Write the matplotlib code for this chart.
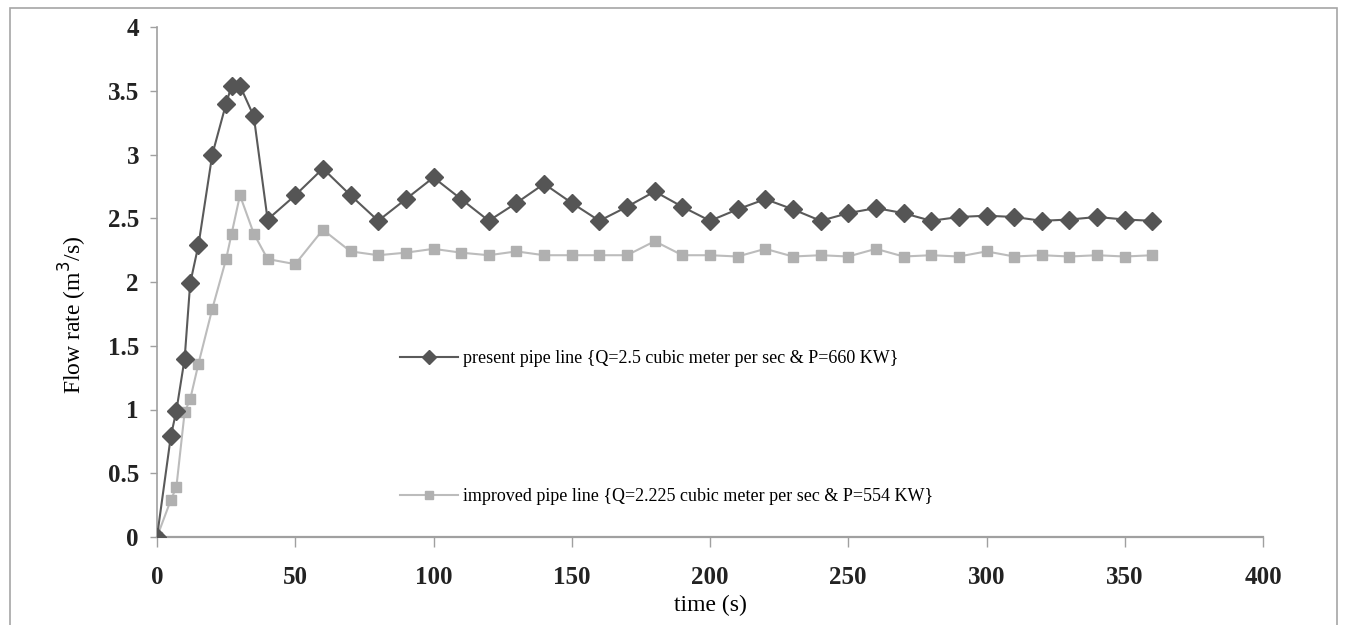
import matplotlib
matplotlib.use("Agg")
import matplotlib.pyplot as plt
from matplotlib.patches import Rectangle

time_s = [0, 5, 7, 10, 12, 15, 20, 25, 27, 30, 35, 40,
          50, 60, 70, 80, 90, 100, 110, 120, 130, 140, 150, 160, 170, 180,
          190, 200, 210, 220, 230, 240, 250, 260, 270, 280, 290, 300, 310,
          320, 330, 340, 350, 360]

present = [0, 0.79, 0.99, 1.40, 1.99, 2.29, 3.0, 3.4, 3.54, 3.54, 3.3, 2.49,
           2.68, 2.89, 2.68, 2.48, 2.65, 2.82, 2.65, 2.48, 2.62, 2.77, 2.62, 2.48, 2.59, 2.71,
           2.59, 2.48, 2.57, 2.65, 2.57, 2.48, 2.54, 2.58, 2.54, 2.48, 2.51, 2.52, 2.51,
           2.48, 2.49, 2.51, 2.49, 2.48]

improved = [0, 0.29, 0.39, 0.98, 1.08, 1.36, 1.79, 2.18, 2.38, 2.68, 2.38, 2.18,
            2.14, 2.41, 2.24, 2.21, 2.23, 2.26, 2.23, 2.21, 2.24, 2.21, 2.21, 2.21, 2.21, 2.32,
            2.21, 2.21, 2.20, 2.26, 2.20, 2.21, 2.20, 2.26, 2.20, 2.21, 2.20, 2.24, 2.20,
            2.21, 2.20, 2.21, 2.20, 2.21]

label_present = "present pipe line {Q=2.5 cubic meter per sec & P=660 KW}"
label_improved = "improved pipe line {Q=2.225 cubic meter per sec & P=554 KW}"

x_ticks = [0, 50, 100, 150, 200, 250, 300, 350, 400]
y_ticks = [0, 0.5, 1, 1.5, 2, 2.5, 3, 3.5, 4]
y_ticklabels = ["0", "0.5", "1", "1.5", "2", "2.5", "3", "3.5", "4"]

plt.rcParams['font.family'] = ['Liberation Serif', 'DejaVu Serif']

W, H = 1346, 625
fig = plt.figure(figsize=(W / 100, H / 100), dpi=100)
fig.patches.append(Rectangle((10 / W, -0.01), 1327 / W, 1 - 8 / H + 0.01,
                             transform=fig.transFigure, fill=False,
                             edgecolor='#a6a6a6', linewidth=1.2))

ax = fig.add_axes([157 / W, (H - 537) / H, (1263 - 157) / W, (537 - 27) / H])

ax.plot(time_s, present, color='#5a5a5a', linewidth=1.5, marker='D',
        markersize=9, markerfacecolor='#555555', markeredgecolor='#555555',
        label=label_present, zorder=3)
ax.plot(time_s, improved, color='#bcbcbc', linewidth=1.5, marker='s',
        markersize=7, markerfacecolor='#b0b0b0', markeredgecolor='#b0b0b0',
        label=label_improved, zorder=2)

ax.set_xlim(0, 400)
ax.set_ylim(0, 4)
ax.set_xticks(x_ticks)
ax.set_yticks(y_ticks)
ax.set_yticklabels(y_ticklabels)

for s in ['top', 'right']:
    ax.spines[s].set_visible(False)
ax.spines['left'].set_color('#a0a0a0')
ax.spines['bottom'].set_color('#a0a0a0')
ax.spines['left'].set_linewidth(1.2)
ax.spines['bottom'].set_linewidth(1.6)

ax.tick_params(axis='both', direction='out', width=1.0, color='#a0a0a0',
               labelsize=18, labelcolor='#222222')
for lab in ax.get_xticklabels() + ax.get_yticklabels():
    lab.set_fontweight('bold')
ax.tick_params(axis='y', length=5, pad=8)
ax.tick_params(axis='x', length=7, pad=14)

ax.set_xlabel("time (s)", fontsize=17, labelpad=4)
ax.set_ylabel("Flow rate (m$^3$/s)", fontsize=17)
ax.yaxis.set_label_coords(-0.0615, 0.435)

leg = ax.legend(loc='upper left', bbox_to_anchor=(400 / W, (H - 350) / H),
                bbox_transform=fig.transFigure, frameon=False,
                fontsize=13, labelspacing=6.7, handlelength=3.2,
                handletextpad=0.3, borderpad=0, borderaxespad=0,
                markerscale=0.75)

fig.savefig("out.png", dpi=100)
